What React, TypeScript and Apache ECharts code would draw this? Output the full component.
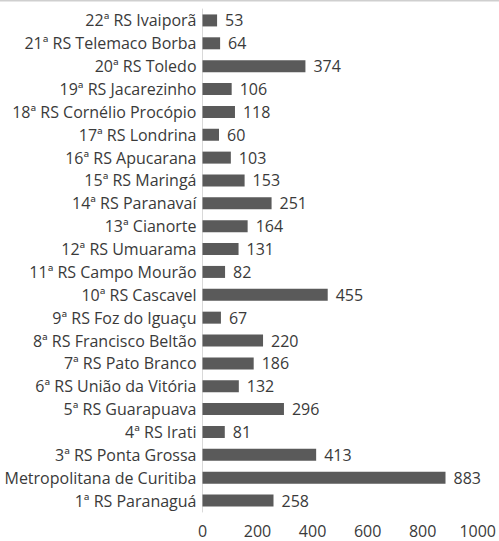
import React, { useEffect, useRef } from "react";
import * as echarts from "echarts";

// bottom to top (category axis order)
const categories = [
  "1ª RS Paranaguá",
  "Metropolitana de Curitiba",
  "3ª RS Ponta Grossa",
  "4ª RS Irati",
  "5ª RS Guarapuava",
  "6ª RS União da Vitória",
  "7ª RS Pato Branco",
  "8ª RS Francisco Beltão",
  "9ª RS Foz do Iguaçu",
  "10ª RS Cascavel",
  "11ª RS Campo Mourão",
  "12ª RS Umuarama",
  "13ª Cianorte",
  "14ª RS Paranavaí",
  "15ª RS Maringá",
  "16ª RS Apucarana",
  "17ª RS Londrina",
  "18ª RS Cornélio Procópio",
  "19ª RS Jacarezinho",
  "20ª RS Toledo",
  "21ª RS Telemaco Borba",
  "22ª RS Ivaiporã",
];

const values = [258, 883, 413, 81, 296, 132, 186, 220, 67, 455, 82, 131, 164, 251, 153, 103, 60, 118, 106, 374, 64, 53];

const xTicks = { min: 0, max: 1000, interval: 200 };

export default function App() {
  const ref = useRef<HTMLDivElement>(null);
  useEffect(() => {
    if (!ref.current) return;
    const chart = echarts.init(ref.current, undefined, { renderer: "svg" });
    const font = "'Open Sans', 'Noto Sans', sans-serif";
    chart.setOption({
      animation: false,
      backgroundColor: "#ffffff",
      graphic: [
        {
          type: "rect",
          shape: { x: 0, y: 0, width: 499, height: 1.5 },
          style: { fill: "#cfcfcf" },
          silent: true,
        },
      ],
      grid: { left: 202.5, right: 20, top: 9, bottom: 29, containLabel: false },
      xAxis: {
        type: "value",
        min: xTicks.min,
        max: xTicks.max,
        interval: xTicks.interval,
        axisLine: { show: false },
        axisTick: { show: false },
        splitLine: { show: false },
        axisLabel: {
          color: "#3a3a3a",
          fontSize: 16,
          lineHeight: 16,
          fontFamily: font,
          margin: 11,
          formatter: (v: number) => String(v),
        },
      },
      yAxis: {
        type: "category",
        data: categories,
        axisLine: { show: true, lineStyle: { color: "#d9d9d9", width: 1 } },
        axisTick: { show: false },
        axisLabel: { color: "#3a3a3a", fontSize: 16, fontFamily: font, margin: 6 },
      },
      series: [
        {
          type: "bar",
          data: values,
          barWidth: 12,
          itemStyle: { color: "#5a5a5a" },
          label: {
            show: true,
            position: "right",
            distance: 8,
            color: "#3a3a3a",
            fontSize: 16,
            fontFamily: font,
          },
        },
      ],
    });
    return () => chart.dispose();
  }, []);
  return (
    <div
      ref={ref}
      style={{ position: "fixed", left: 0, top: 0, width: 499, height: 541, background: "#fff" }}
    />
  );
}
